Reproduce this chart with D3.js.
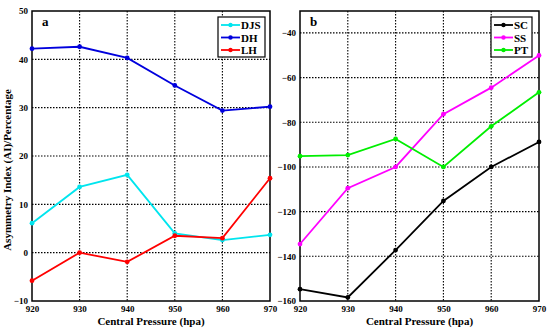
<!DOCTYPE html>
<html>
<head>
<meta charset="utf-8">
<script src="https://cdn.jsdelivr.net/npm/d3@7"></script>
<style>
  body { margin: 0; background: #fff; }
  text { font-family: "Liberation Serif", "Times New Roman", serif; font-weight: bold; }
</style>
</head>
<body>
<svg id="chart" width="550" height="331"></svg>
<script>
const pressures = [920, 930, 940, 950, 960, 970];

// panel a
const djs = [6.1, 13.6, 16.1, 4.0, 2.6, 3.7];
const dh = [42.2, 42.6, 40.3, 34.6, 29.4, 30.2];
const lh = [-5.8, 0, -1.9, 3.5, 3.0, 15.4];
const ticksA = [-10, 0, 10, 20, 30, 40, 50];

// panel b
const sc = [-154.7, -158.4, -137.2, -115.2, -100, -88.8];
const ss = [-134.5, -109.5, -100, -76.4, -64.5, -50.1];
const pt = [-95.2, -94.7, -87.5, -100, -81.8, -66.6];
const ticksB = [-160, -140, -120, -100, -80, -60, -40];

const panels = [
  {
    tag: 'a', left: 32, right: 270, top: 11, bottom: 301,
    domain: [-10, 50], ticks: ticksA,
    series: [
      { name: 'DJS', values: djs, color: '#00e5ee' },
      { name: 'DH', values: dh, color: '#0000dd' },
      { name: 'LH', values: lh, color: '#ff0000' },
    ],
    legend: { x: 218, y: 17, w: 47, h: 40 },
  },
  {
    tag: 'b', left: 300, right: 539, top: 11, bottom: 301,
    domain: [-160, -30.2], ticks: ticksB,
    series: [
      { name: 'SC', values: sc, color: '#000000' },
      { name: 'SS', values: ss, color: '#ff00ff' },
      { name: 'PT', values: pt, color: '#00ee00' },
    ],
    legend: { x: 491, y: 17, w: 41, h: 40 },
  },
];

const svg = d3.select('#chart');

panels.forEach((p) => {
  const x = d3.scaleLinear().domain([920, 970]).range([p.left, p.right]);
  const y = d3.scaleLinear().domain(p.domain).range([p.bottom, p.top]);
  const g = svg.append('g');

  // grid
  g.selectAll('.vgrid')
    .data(pressures.slice(1, -1))
    .enter().append('line')
    .attr('x1', d => x(d)).attr('x2', d => x(d))
    .attr('y1', p.top).attr('y2', p.bottom)
    .attr('stroke', '#000').attr('stroke-width', 1.1)
    .attr('stroke-dasharray', '1.5,1.5');

  g.selectAll('.hgrid')
    .data(p.ticks.filter(t => y(t) > p.top + 1 && y(t) < p.bottom - 1))
    .enter().append('line')
    .attr('x1', p.left).attr('x2', p.right)
    .attr('y1', d => y(d)).attr('y2', d => y(d))
    .attr('stroke', '#000').attr('stroke-width', 1.1)
    .attr('stroke-dasharray', '1.5,1.5');

  // axes
  const xAxis = d3.axisBottom(x).tickValues(pressures).tickSize(0).tickPadding(5).tickFormat(d3.format('d'));
  g.append('g').attr('transform', `translate(0,${p.bottom})`).call(xAxis)
    .call(s => s.select('.domain').remove())
    .selectAll('text').attr('font-size', 9).attr('fill', '#000')
    .attr('font-family', '"Liberation Serif", serif');

  const yAxis = d3.axisLeft(y).tickValues(p.ticks).tickSize(0).tickPadding(4)
    .tickFormat(d => (d < 0 ? '\u2212' + Math.abs(d) : d));
  g.append('g').attr('transform', `translate(${p.left},0)`).call(yAxis)
    .call(s => s.select('.domain').remove())
    .selectAll('text').attr('font-size', 9).attr('fill', '#000')
    .attr('font-family', '"Liberation Serif", serif');

  // frame
  g.append('rect')
    .attr('x', p.left).attr('y', p.top)
    .attr('width', p.right - p.left).attr('height', p.bottom - p.top)
    .attr('fill', 'none').attr('stroke', '#000').attr('stroke-width', 1.5);

  // lines
  const line = d3.line().x((d, i) => x(pressures[i])).y(d => y(d));
  p.series.forEach((s) => {
    g.append('path')
      .attr('d', line(s.values))
      .attr('fill', 'none').attr('stroke', s.color).attr('stroke-width', 1.8);
    g.selectAll(null)
      .data(s.values)
      .enter().append('circle')
      .attr('cx', (d, i) => x(pressures[i])).attr('cy', d => y(d))
      .attr('r', 2.4).attr('fill', s.color);
  });

  // panel tag
  g.append('text')
    .attr('x', p.left + 10).attr('y', p.top + 15)
    .attr('font-size', 13).text(p.tag);

  // legend
  const L = p.legend;
  g.append('rect')
    .attr('x', L.x).attr('y', L.y).attr('width', L.w).attr('height', L.h)
    .attr('fill', '#fff').attr('stroke', '#000').attr('stroke-width', 1.2);
  p.series.forEach((s, i) => {
    const ly = L.y + 8 + i * 12.5;
    g.append('line')
      .attr('x1', L.x + 3).attr('x2', L.x + 22)
      .attr('y1', ly).attr('y2', ly)
      .attr('stroke', s.color).attr('stroke-width', 1.8);
    g.append('circle').attr('cx', L.x + 12.5).attr('cy', ly).attr('r', 2.2).attr('fill', s.color);
    g.append('text')
      .attr('x', L.x + 23).attr('y', ly + 4)
      .attr('font-size', 11).text(s.name);
  });

  // x label
  g.append('text')
    .attr('x', (p.left + p.right) / 2).attr('y', 325)
    .attr('text-anchor', 'middle').attr('font-size', 11)
    .text('Central Pressure (hpa)');
});

svg.append('text')
  .attr('transform', 'translate(11,170) rotate(-90)')
  .attr('text-anchor', 'middle').attr('font-size', 11)
  .text('Asymmetry Index (AI)/Percentage');
</script>
</body>
</html>
